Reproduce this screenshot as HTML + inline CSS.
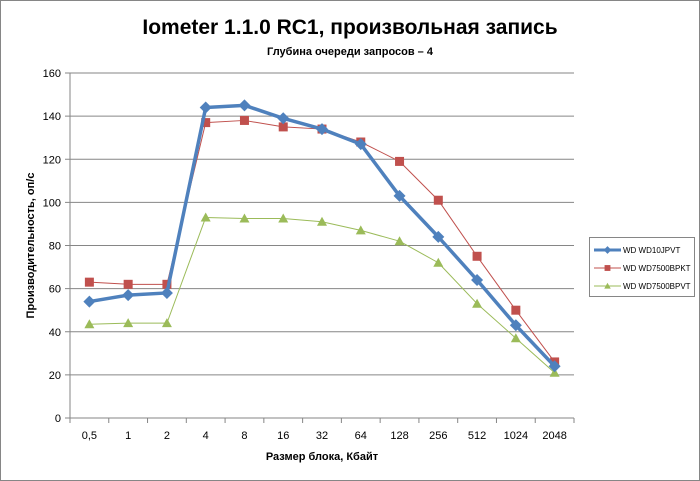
<!DOCTYPE html>
<html><head><meta charset="utf-8"><style>
body{margin:0;background:#fff;font-family:"Liberation Sans",sans-serif}
#wrap{position:relative;width:698px;height:479px;border:1px solid #868686;overflow:hidden}
</style></head><body>
<div id="wrap">
<svg id="chart" width="698" height="479"></svg>
</div>
<script>
const categories=["0,5","1","2","4","8","16","32","64","128","256","512","1024","2048"];
const seriesBlue=[54,57,58,144,145,139,134,127,103,84,64,43,24];
const seriesRed=[63,62,62,137,138,135,134,128,119,101,75,50,26];
const seriesGreen=[43.5,44,44,93,92.5,92.5,91,87,82,72,53,37,21];
const yTicks=[0,20,40,60,80,100,120,140,160];
const seriesNames=["WD WD10JPVT","WD WD7500BPKT","WD WD7500BPVT"];

const svg=document.getElementById('chart');
const NS='http://www.w3.org/2000/svg';
const L=69,R=573,T=72,B=417,YMAX=160;
const band=(R-L)/categories.length;
const xs=i=>L+band*(i+0.5);
const ys=v=>B-(v/YMAX)*(B-T);
function mk(tag,attrs,parent){const e=document.createElementNS(NS,tag);for(const k in attrs)e.setAttribute(k,attrs[k]);(parent||svg).appendChild(e);return e;}

let t=mk('text',{x:349,y:33,'text-anchor':'middle','font-size':21,'font-weight':'bold',fill:'#000'});t.textContent='Iometer 1.1.0 RC1, произвольная запись';


t=mk('text',{x:349,y:54,'text-anchor':'middle','font-size':11,'font-weight':'bold',fill:'#000'});t.textContent='Глубина очереди запросов – 4';



yTicks.forEach(v=>{
  const g=mk('line',{x1:L,x2:R,y1:ys(v),y2:ys(v),stroke:'#868686','stroke-width':1});
  
  
  mk('line',{x1:L-5,x2:L,y1:ys(v),y2:ys(v),stroke:'#868686'});
  const lb=mk('text',{x:L-9,y:ys(v)+4,'text-anchor':'end','font-size':11,fill:'#000'});lb.textContent=v;
  
  
});
const ax=mk('line',{x1:L,x2:L,y1:T,y2:B,stroke:'#868686'});


categories.forEach((c,i)=>{
  mk('line',{x1:L+band*i,x2:L+band*i,y1:B,y2:B+5,stroke:'#868686'});
  const lb=mk('text',{x:xs(i),y:B+21,'text-anchor':'middle','font-size':11,fill:'#000'});lb.textContent=c;
  
  
});
mk('line',{x1:R,x2:R,y1:B,y2:B+5,stroke:'#868686'});
t=mk('text',{x:L+(R-L)/2,y:B+42,'text-anchor':'middle','font-size':11,'font-weight':'bold'});t.textContent='Размер блока, Кбайт';


t=mk('text',{x:0,y:0,'text-anchor':'middle','font-size':11,'font-weight':'bold',transform:`translate(33,${(T+B)/2}) rotate(-90)`});t.textContent='Производительность, оп/с';



function marker(type,x,y,color,parent){
  if(type==='d') return mk('polygon',{points:`${x},${y-6} ${x+6},${y} ${x},${y+6} ${x-6},${y}`,fill:color},parent);
  if(type==='s') return mk('rect',{x:x-4.5,y:y-4.5,width:9,height:9,fill:color},parent);
  return mk('polygon',{points:`${x},${y-5} ${x+5},${y+4} ${x-5},${y+4}`,fill:color},parent);
}
const defs=[[seriesGreen,'#9bbb59',1,'t','series-wd7500bpvt'],[seriesRed,'#c0504d',1,'s','series-wd7500bpkt'],[seriesBlue,'#4f81bd',3.5,'d','series-wd10jpvt']];
defs.forEach(([d,col,w,m,name])=>{
  const g=mk('g',{});
  
  
  mk('polyline',{points:d.map((v,i)=>xs(i)+','+ys(v)).join(' '),fill:'none',stroke:col,'stroke-width':w,'stroke-linejoin':'round'},g);
  d.forEach((v,i)=>{const p=marker(m,xs(i),ys(v),col,g);
    
    });
});

const lg=mk('g',{});


mk('rect',{x:588.5,y:236.5,width:105,height:59,fill:'#fff',stroke:'#868686'},lg);
const lcols=['#4f81bd','#c0504d','#9bbb59'],lm=['d','s','t'],lw=[3,1,1];
seriesNames.forEach((n,i)=>{
  const y=249+i*18;
  const e=mk('g',{},lg);
  
  
  mk('line',{x1:593,x2:620,y1:y,y2:y,stroke:lcols[i],'stroke-width':lw[i]},e);
  marker(lm[i],606.5,y,lcols[i],e).setAttribute('transform',`translate(${606.5*0.35},${y*0.35}) scale(0.65)`);
  const tx=mk('text',{x:622,y:y+3,'font-size':8,fill:'#000'},e);tx.textContent=n;
});
</script>
</body></html>
